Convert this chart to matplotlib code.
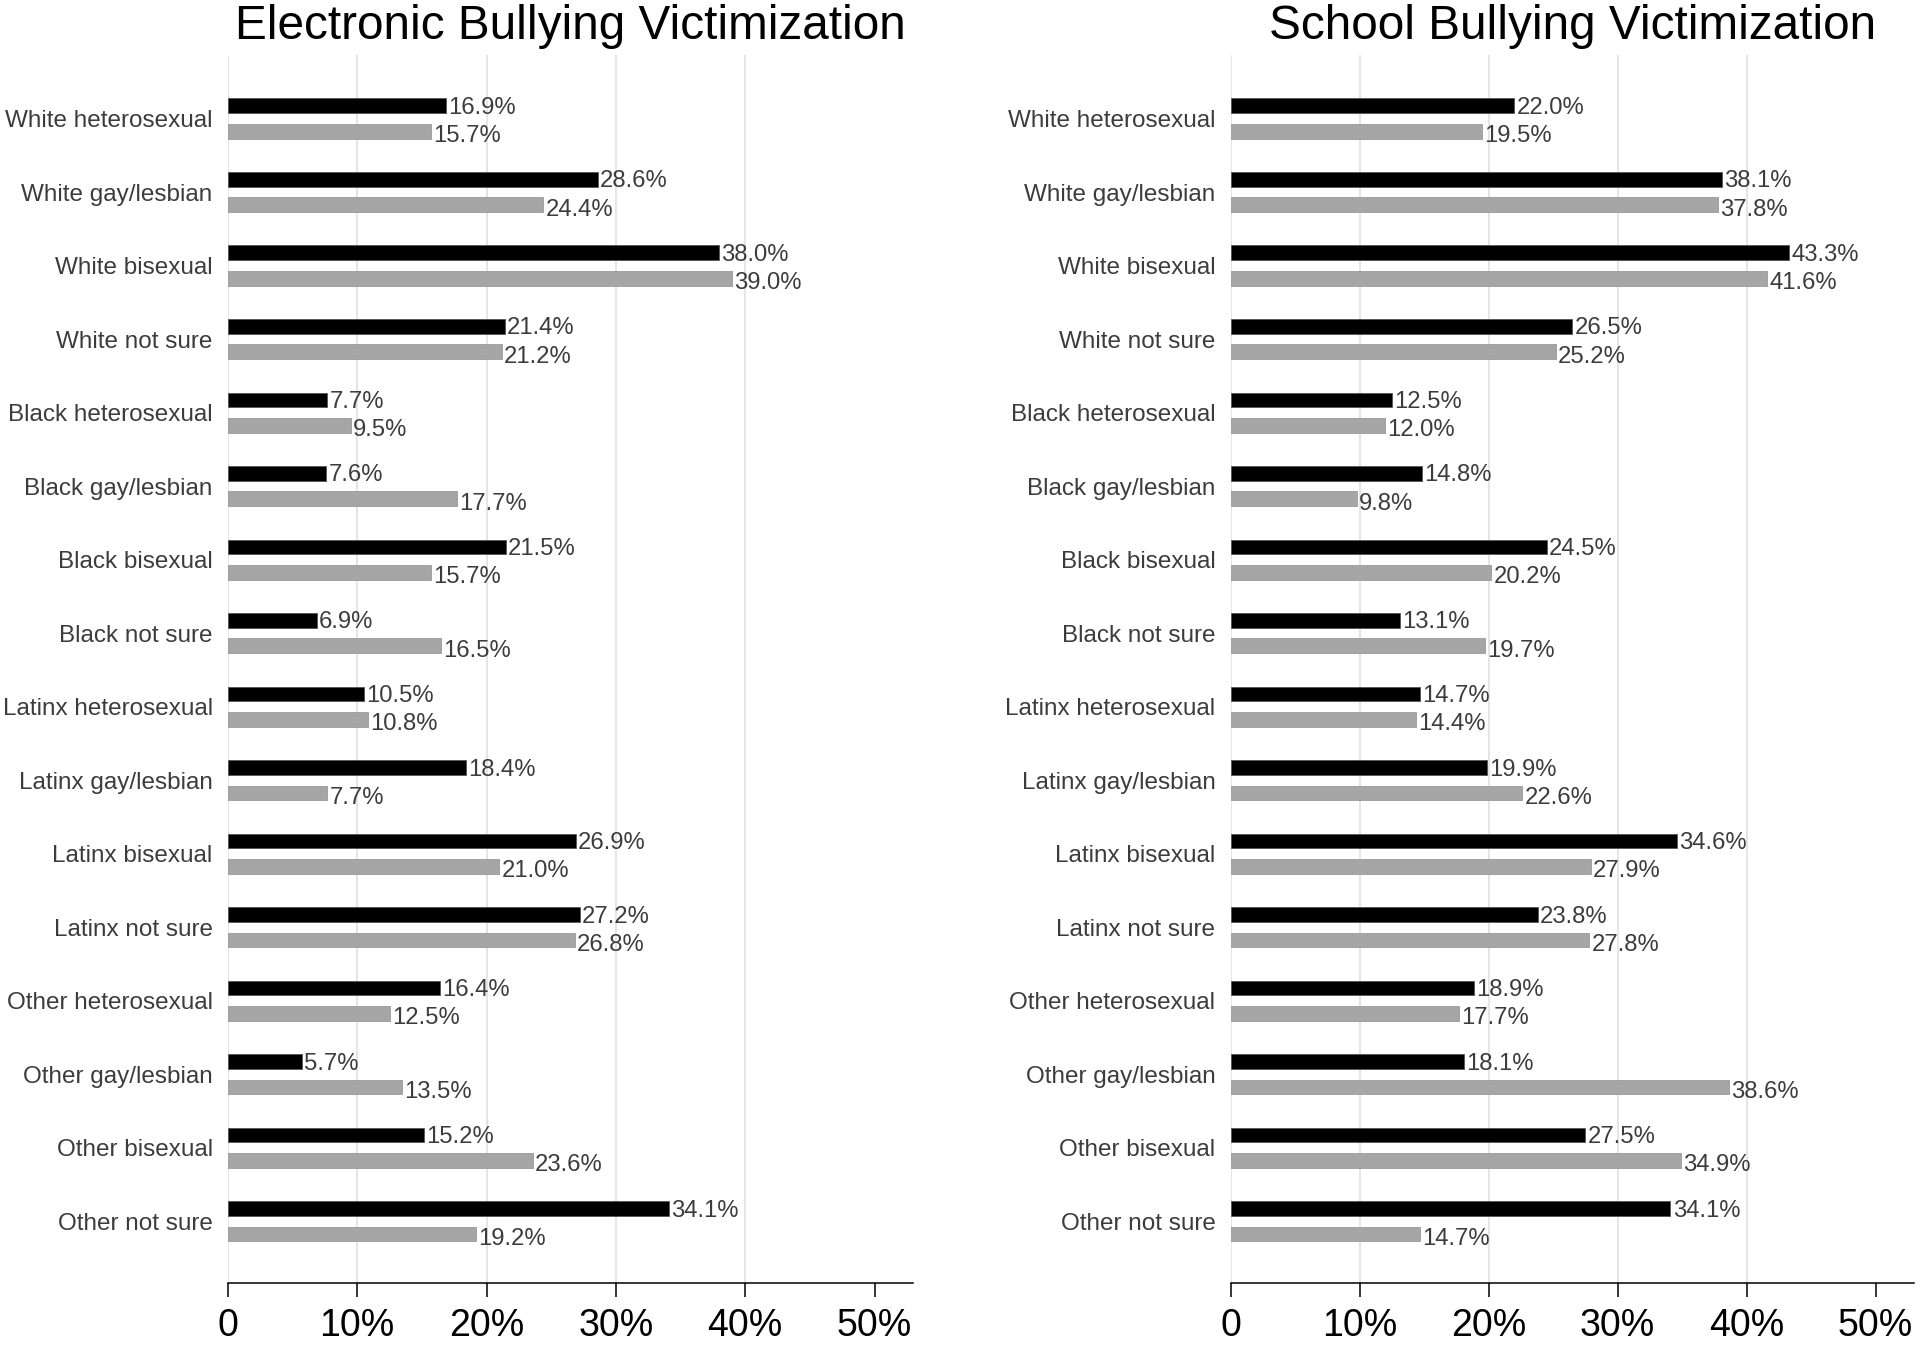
import numpy as np
import matplotlib.pyplot as plt

plt.rcParams['font.family'] = ['Liberation Sans', 'DejaVu Sans']

groups = ['White heterosexual', 'White gay/lesbian', 'White bisexual', 'White not sure',
          'Black heterosexual', 'Black gay/lesbian', 'Black bisexual', 'Black not sure',
          'Latinx heterosexual', 'Latinx gay/lesbian', 'Latinx bisexual', 'Latinx not sure',
          'Other heterosexual', 'Other gay/lesbian', 'Other bisexual', 'Other not sure']

# electronic bullying, black and gray series
elec_black = [16.9, 28.6, 38.0, 21.4, 7.7, 7.6, 21.5, 6.9, 10.5, 18.4, 26.9, 27.2, 16.4, 5.7, 15.2, 34.1]
elec_gray = [15.7, 24.4, 39.0, 21.2, 9.5, 17.7, 15.7, 16.5, 10.8, 7.7, 21.0, 26.8, 12.5, 13.5, 23.6, 19.2]

# school bullying
school_black = [22.0, 38.1, 43.3, 26.5, 12.5, 14.8, 24.5, 13.1, 14.7, 19.9, 34.6, 23.8, 18.9, 18.1, 27.5, 34.1]
school_gray = [19.5, 37.8, 41.6, 25.2, 12.0, 9.8, 20.2, 19.7, 14.4, 22.6, 27.9, 27.8, 17.7, 38.6, 34.9, 14.7]

x_ticks = [0, 10, 20, 30, 40, 50]
x_tick_labels = ['0', '10%', '20%', '30%', '40%', '50%']
grid_at = [0, 10, 20, 30, 40]

BLACK = '#000000'
GRAY = '#a6a6a6'
TEXT = '#3c3c3c'


def draw_panel(ax, title, black_vals, gray_vals):
    y = np.arange(len(groups))
    off = 0.173
    h = 0.2
    ax.vlines(grid_at, -0.87, len(groups) - 0.16, color='#e3e3e3', lw=1.3, zorder=0)
    ax.barh(y - off, black_vals, height=h, color=BLACK, edgecolor='#555555', lw=0.6, zorder=2)
    ax.barh(y + off, gray_vals, height=h, color=GRAY, edgecolor='#999999', lw=0.6, zorder=2)
    for yi, v in zip(y, black_vals):
        ax.annotate(f'{v:.1f}%', (v, yi - off), xytext=(1.5, -1.5), textcoords='offset points',
                    ha='left', va='center', fontsize=17.2, color=TEXT)
    for yi, v in zip(y, gray_vals):
        ax.annotate(f'{v:.1f}%', (v, yi + off), xytext=(1.5, -3.5), textcoords='offset points',
                    ha='left', va='center', fontsize=17.2, color=TEXT)

    ax.set_xlim(0, 53)
    ax.set_ylim(len(groups) - 0.16, -0.87)
    ax.set_yticks(y)
    ax.set_yticklabels(groups, fontsize=17.5, color=TEXT)
    ax.tick_params(axis='y', length=0, pad=11)
    ax.set_xticks(x_ticks)
    ax.set_xticklabels(x_tick_labels, fontsize=27)
    ax.tick_params(axis='x', direction='out', length=10, width=1.1, pad=8)
    for s in ['top', 'right', 'left']:
        ax.spines[s].set_visible(False)
    ax.spines['bottom'].set_linewidth(1.1)
    ax.set_title(title, fontsize=34.4, pad=11)


fig = plt.figure(figsize=(19.2, 13.47), dpi=100)
ax1 = fig.add_axes([0.1187, 0.0475, 0.357, 0.912])
ax2 = fig.add_axes([0.641, 0.0475, 0.356, 0.912])

draw_panel(ax1, 'Electronic Bullying Victimization', elec_black, elec_gray)
draw_panel(ax2, 'School Bullying Victimization', school_black, school_gray)

fig.savefig('out.png', dpi=100)
